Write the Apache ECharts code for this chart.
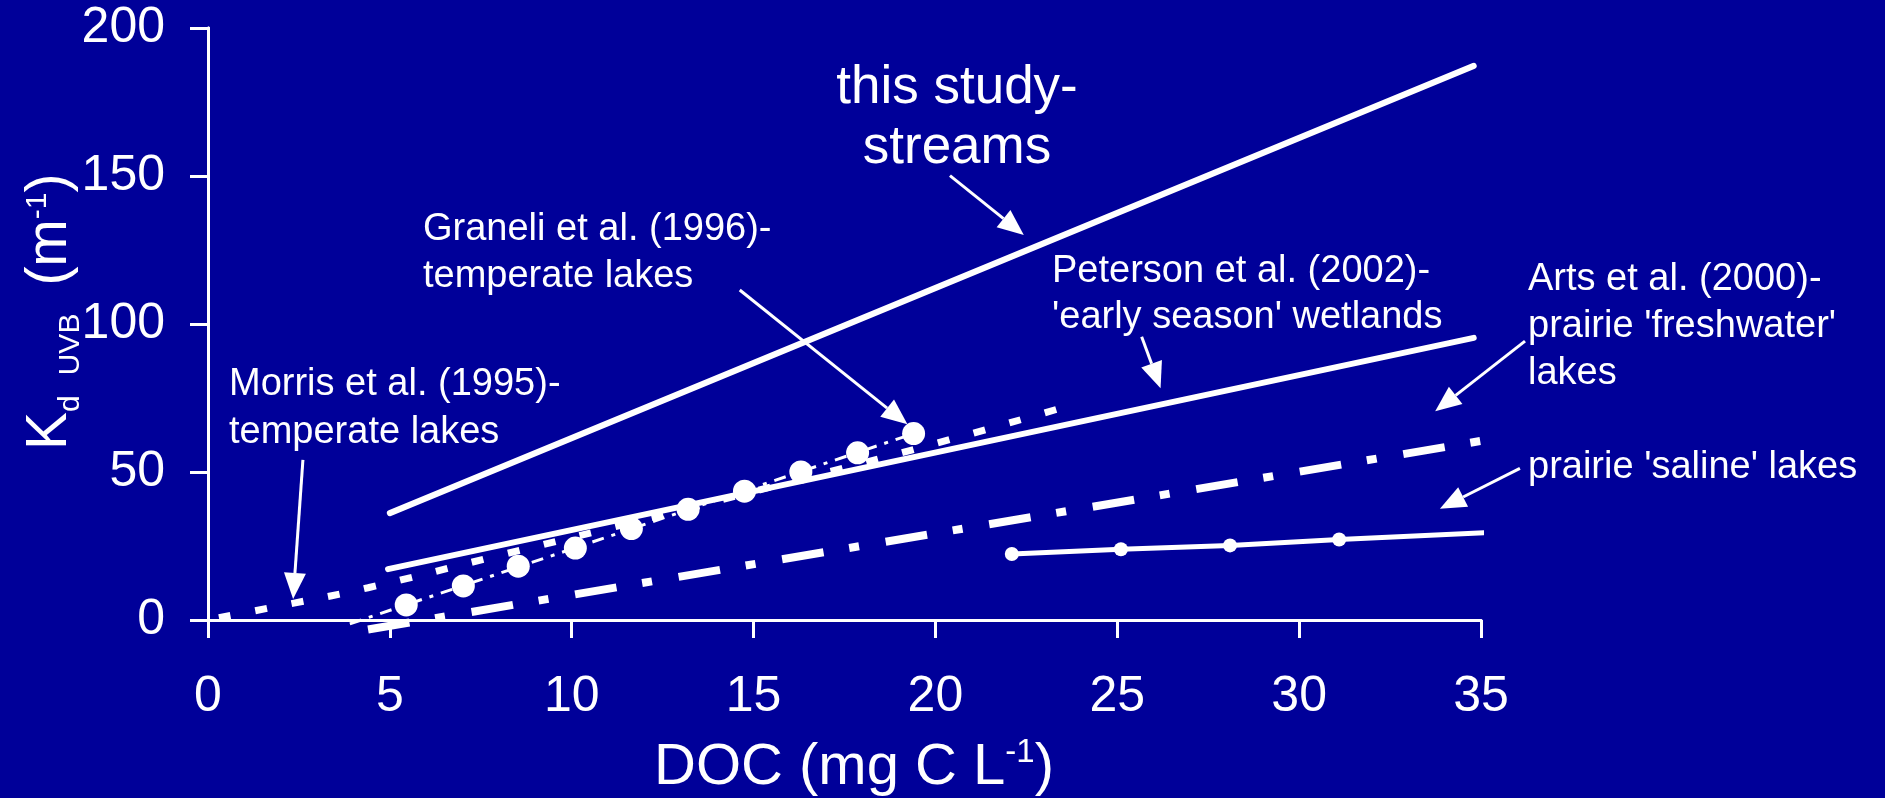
<!DOCTYPE html>
<html><head><meta charset="utf-8">
<script src="https://cdn.jsdelivr.net/npm/echarts@6/dist/echarts.min.js"></script>
<style>html,body{margin:0;padding:0;background:#000099;}#chart{width:1885px;height:798px;}</style>
</head><body><div id="chart"></div>
<script>
// ---- data ----
const xTicks = [0, 5, 10, 15, 20, 25, 30, 35];
const yTicks = [0, 50, 100, 150, 200];

const studyX = [5.0, 34.8];
const studyY = [36.1, 187.2];

const petersonX = [4.95, 34.8];
const petersonY = [17.2, 95.3];

const morrisX = [0.3, 2.4, 4.4, 8, 12, 16, 20, 23.4];
const morrisY = [0.8, 5.8, 10.9, 21.8, 34.0, 46.6, 59.6, 71.4];

const graneliLineX = [3.9, 19.5];
const graneliLineY = [-1.3, 63.4];
const graneliX = [5.45, 7.02, 8.53, 10.1, 11.64, 13.2, 14.75, 16.3, 17.86, 19.4];
const graneliY = [5.1, 11.5, 18.2, 24.3, 30.9, 37.4, 43.5, 50.0, 56.5, 63.0];

const artsX = [4.4, 35.0];
const artsY = [-3.2, 60.5];

const salineX = [22.1, 25.1, 28.1, 31.1, 35.3];
const salineY = [22.3, 23.9, 25.2, 27.2, 29.6];
const salineMarked = [true, true, true, true, false];

// annotation arrows (data coordinates: from -> to)
const arrowFrom = [[20.4, 150.1], [14.62, 111.5], [25.67, 95.7], [36.21, 94.2], [36.07, 51.2], [2.61, 54.1]];
const arrowTo   = [[22.43, 130.1], [19.23, 66.1], [26.19, 78.3], [33.74, 70.5], [33.87, 37.6], [2.34, 7.1]];

// ---- chart ----
const FONT = "'Liberation Sans', Arial, sans-serif";
const W = '#ffffff';
const pairs = (xs, ys) => xs.map((x, i) => [x, ys[i]]);

const chart = echarts.init(document.getElementById('chart'), null, {renderer: 'canvas'});

const option = {
  backgroundColor: '#000099',
  animation: false,
  grid: {left: 208, right: 404, top: 28, bottom: 178, containLabel: false},
  xAxis: [{
    type: 'value', min: xTicks[0], max: xTicks[xTicks.length - 1], interval: 5,
    axisLine: {lineStyle: {color: W, width: 3}},
    axisTick: {show: true, inside: false, length: 18, lineStyle: {color: W, width: 3}},
    axisLabel: {color: W, fontSize: 50, fontFamily: FONT, margin: 77, verticalAlign: 'middle'},
    splitLine: {show: false}
  }, {
    type: 'value', position: 'top', min: 0, max: 35,
    axisLine: {show: true, lineStyle: {color: W, width: 3}},
    axisTick: {show: false}, axisLabel: {show: false}, splitLine: {show: false}
  }],
  yAxis: [{
    type: 'value', min: yTicks[0], max: yTicks[yTicks.length - 1], interval: 50,
    axisLine: {show: true, lineStyle: {color: W, width: 3}},
    axisTick: {show: true, inside: false, length: 18, lineStyle: {color: W, width: 3}},
    axisLabel: {color: W, fontSize: 50, fontFamily: FONT, margin: 43},
    splitLine: {show: false}
  }, {
    type: 'value', position: 'right', min: 0, max: 200,
    axisLine: {show: true, lineStyle: {color: W, width: 3}},
    axisTick: {show: false}, axisLabel: {show: false}, splitLine: {show: false}
  }],
  series: [
    {name: 'this study', type: 'line', data: pairs(studyX, studyY), showSymbol: false, clip: false,
     lineStyle: {color: W, width: 6, cap: 'round'}},
    {name: 'Peterson', type: 'line', data: pairs(petersonX, petersonY), showSymbol: false, clip: false,
     lineStyle: {color: W, width: 6, cap: 'round'}},
    {name: 'Morris', type: 'line', data: pairs(morrisX, morrisY), showSymbol: false, clip: false, smooth: true,
     lineStyle: {color: W, width: 7, type: [12, 25], cap: 'butt'}},
    {name: 'Arts freshwater', type: 'line', data: pairs(artsX, artsY), showSymbol: false, clip: false,
     lineStyle: {color: W, width: 8, type: [42, 26, 10, 27], cap: 'butt'}},
    {name: 'Graneli fit', type: 'line', data: pairs(graneliLineX, graneliLineY), showSymbol: false, clip: false,
     lineStyle: {color: W, width: 3, type: [12, 8, 4, 8]}},
    {name: 'Graneli', type: 'scatter', data: pairs(graneliX, graneliY), symbol: 'circle', symbolSize: 23, clip: false,
     itemStyle: {color: W, opacity: 1}},
    {name: 'saline', type: 'line', clip: false,
     data: salineX.map((x, i) => ({value: [x, salineY[i]], symbol: salineMarked[i] ? 'circle' : 'none'})),
     symbol: 'circle', symbolSize: 14, showSymbol: true,
     itemStyle: {color: W, opacity: 1}, lineStyle: {color: W, width: 5}}
  ]
};
chart.setOption(option);

// ---- text annotations ----
function txt(text, x, y, fs, align) {
  return {type: 'text', x: x, y: y, z: 100,
    style: {text: text, fill: W, fontSize: fs, fontFamily: FONT, align: align || 'left', verticalAlign: 'middle'}};
}
const graphics = [
  txt('this study-', 957, 88, 53, 'center'),
  txt('streams', 957, 148, 53, 'center'),
  txt('Graneli et al. (1996)-', 423, 230, 38),
  txt('temperate lakes', 423, 277, 38),
  txt('Peterson et al. (2002)-', 1052, 272, 38),
  txt("'early season' wetlands", 1052, 318, 38),
  txt('Arts et al. (2000)-', 1528, 280, 38),
  txt("prairie 'freshwater'", 1528, 327, 38),
  txt('lakes', 1528, 374, 38),
  txt("prairie 'saline' lakes", 1528, 468, 38),
  txt('Morris et al. (1995)-', 229, 385, 38),
  txt('temperate lakes', 229, 433, 38),
  // x axis title
  {type: 'text', x: 854, y: 768, z: 100, style: {
    text: '{m|DOC (mg C L}{s|-1}{m|)}', align: 'center', verticalAlign: 'middle', fill: W,
    rich: {m: {fontSize: 58, fontFamily: FONT, fill: W},
           s: {fontSize: 33, fontFamily: FONT, fill: W, padding: [0, 0, 30, 0]}}}},
  // y axis title (rotated)
  {type: 'text', x: 50, y: 450, rotation: Math.PI / 2, z: 100, style: {
    text: '{m|K}{d|d}{g| }{d|UVB}{h| }{m|(m}{s|-1}{m|)}', align: 'left', verticalAlign: 'middle', fill: W,
    rich: {m: {fontSize: 57, fontFamily: FONT, fill: W},
           d: {fontSize: 30, fontFamily: FONT, fill: W, padding: [42, 0, 0, 0]},
           g: {fontSize: 30, fontFamily: FONT, width: 20},
           h: {fontSize: 30, fontFamily: FONT, width: 28},
           s: {fontSize: 30, fontFamily: FONT, fill: W, padding: [0, 0, 24, 0]}}}}
];

// ---- arrows, positioned through the chart's own scales ----
arrowFrom.forEach((f, i) => {
  const p1 = chart.convertToPixel({xAxisIndex: 0, yAxisIndex: 0}, f);
  const p2 = chart.convertToPixel({xAxisIndex: 0, yAxisIndex: 0}, arrowTo[i]);
  const dx = p2[0] - p1[0], dy = p2[1] - p1[1];
  const len = Math.sqrt(dx * dx + dy * dy);
  const ux = dx / len, uy = dy / len;
  const headL = 26, headW = 11;
  const bx = p2[0] - ux * headL, by = p2[1] - uy * headL;
  graphics.push({type: 'line', z: 90, shape: {x1: p1[0], y1: p1[1], x2: bx, y2: by},
    style: {stroke: W, lineWidth: 3}});
  graphics.push({type: 'polygon', z: 90, shape: {points: [
    [p2[0], p2[1]], [bx - uy * headW, by + ux * headW], [bx + uy * headW, by - ux * headW]]},
    style: {fill: W}});
});
chart.setOption({graphic: graphics});
</script></body></html>
